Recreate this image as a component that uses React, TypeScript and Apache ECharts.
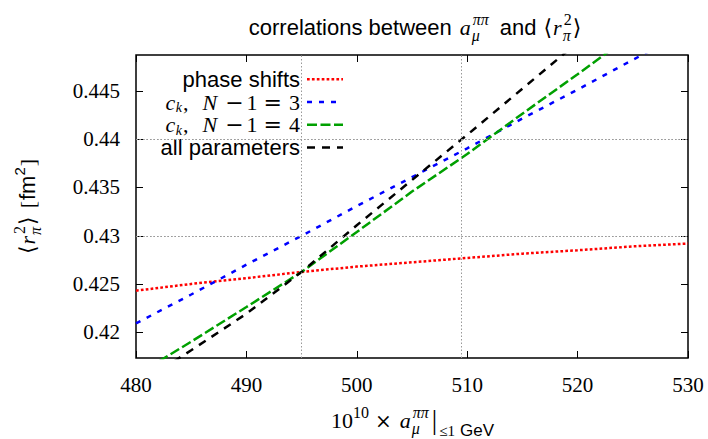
import React, { useEffect, useRef } from 'react';
import * as echarts from 'echarts';

// ---- data ----
const xTicks = [480, 490, 500, 510, 520, 530];
const yTicks = [0.42, 0.425, 0.43, 0.435, 0.44, 0.445];
const xTickLabels = ['480', '490', '500', '510', '520', '530'];
const yTickLabels = ['0.42', '0.425', '0.43', '0.435', '0.44', '0.445'];
const xMin = 480;
const xMax = 530;
const yMin = 0.4173;
const yMax = 0.4488;
const xSamples = [480, 485, 490, 495, 500, 505, 510, 515, 520, 525, 530];
const phaseShifts = [0.4243, 0.425, 0.4256, 0.42625, 0.4268, 0.42725, 0.4277, 0.42815, 0.4285, 0.4289, 0.4292];
const ckN3 = [0.4209, 0.4239, 0.427, 0.43, 0.4331, 0.4361, 0.4391, 0.4422, 0.4452, 0.4483, 0.4513];
const ckN4 = [0.4155, 0.419, 0.4226, 0.42625, 0.4304, 0.4346, 0.4385, 0.4427, 0.4468, 0.451, 0.455];
const allParams = [0.4144, 0.4181, 0.4219, 0.42625, 0.4311, 0.4358, 0.4405, 0.4453, 0.4501, 0.4549, 0.4597];
const refX = [495, 509.5];
const refY = [0.42625, 0.42765, 0.43802, 0.4399];

const SANS = 'Liberation Sans, Arial, Helvetica, sans-serif';
const SERIF = 'Liberation Serif, DejaVu Serif, serif';
const DVSERIF = 'DejaVu Serif, Liberation Serif, serif';

type Kind = 'sans' | 'serif' | 'it' | 'dv';
type Simple = { t: string; k: Kind; s: number; dy?: number; dx?: number };
type Piece = Simple | { sup: Simple; sub: Simple };

const canvas = typeof document !== 'undefined' ? document.createElement('canvas') : null;
const ctx = canvas ? canvas.getContext('2d') : null;

function fam(k: Kind) {
  return k === 'sans' ? SANS : k === 'dv' ? DVSERIF : SERIF;
}
function measure(p: Simple): number {
  if (!ctx) return p.t.length * p.s * 0.5;
  ctx.font = `${p.k === 'it' ? 'italic ' : ''}${p.s}px ${fam(p.k)}`;
  return ctx.measureText(p.t).width;
}
function run(pieces: Piece[], x0: number, baseline: number, align: 'left' | 'center' | 'right') {
  const items: { p: Simple; x: number }[] = [];
  let w = 0;
  for (const p of pieces) {
    if ('sup' in p) {
      items.push({ p: p.sup, x: w });
      items.push({ p: p.sub, x: w });
      w += Math.max(measure(p.sup) + (p.sup.dx || 0), measure(p.sub) + (p.sub.dx || 0));
    } else {
      items.push({ p, x: w });
      w += measure(p) + (p.dx || 0);
    }
  }
  const start = align === 'left' ? x0 : align === 'center' ? x0 - w / 2 : x0 - w;
  return items.map(({ p, x }) => ({
    type: 'text',
    x: start + x + (p.dx || 0),
    y: baseline + (p.dy || 0) - 0.345 * p.s,
    silent: true,
    style: {
      text: p.t,
      fontSize: p.s,
      fontFamily: fam(p.k),
      fontStyle: p.k === 'it' ? 'italic' : 'normal',
      fill: '#000',
      align: 'left',
      verticalAlign: 'middle',
    },
  }));
}

const titlePieces: Piece[] = [
  { t: 'correlations between', k: 'sans', s: 22 },
  { t: 'a', k: 'it', s: 22, dx: 8 },
  { sup: { t: 'ππ', k: 'it', s: 16, dy: -10, dx: 2 }, sub: { t: 'μ', k: 'it', s: 16, dy: 6, dx: 1 } },
  { t: 'and', k: 'sans', s: 22, dx: 11 },
  { t: '⟨', k: 'dv', s: 22, dx: 7 },
  { t: 'r', k: 'it', s: 22, dx: 1 },
  { sup: { t: '2', k: 'serif', s: 16, dy: -10, dx: 2 }, sub: { t: 'π', k: 'it', s: 16, dy: 6, dx: 1 } },
  { t: '⟩', k: 'dv', s: 22, dx: 1 },
];

const xTitlePieces: Piece[] = [
  { t: '10', k: 'serif', s: 22 },
  { t: '10', k: 'serif', s: 16, dy: -10 },
  { t: '×', k: 'dv', s: 20, dx: 6 },
  { t: 'a', k: 'it', s: 22, dx: 8 },
  { sup: { t: 'ππ', k: 'it', s: 16, dy: -10, dx: 2 }, sub: { t: 'μ', k: 'it', s: 16, dy: 6, dx: 1 } },
  { t: '|', k: 'serif', s: 27, dy: 1, dx: 3 },
  { t: '≤1', k: 'serif', s: 15, dy: 8, dx: 2 },
  { t: 'GeV', k: 'sans', s: 17, dy: 8, dx: 5 },
];

const yTitlePieces: Piece[] = [
  { t: '⟨', k: 'dv', s: 22 },
  { t: 'r', k: 'it', s: 22, dx: 1 },
  { sup: { t: '2', k: 'serif', s: 16, dy: -10, dx: 2 }, sub: { t: 'π', k: 'it', s: 16, dy: 6, dx: 1 } },
  { t: '⟩', k: 'dv', s: 22, dx: 1 },
  { t: '[', k: 'serif', s: 22, dx: 8 },
  { t: 'fm', k: 'sans', s: 22, dx: 1 },
  { t: '2', k: 'sans', s: 15, dy: -10 },
  { t: ']', k: 'serif', s: 22, dx: 1 },
];

function ckName(n: string): Piece[] {
  return [
    { t: 'c', k: 'it', s: 22 },
    { t: 'k', k: 'it', s: 14, dy: 3, dx: 0.5 },
    { t: ',', k: 'serif', s: 22, dx: 1 },
    { t: 'N', k: 'it', s: 22, dx: 14 },
    { t: '−', k: 'dv', s: 22, dx: 8 },
    { t: '1', k: 'serif', s: 22, dx: 3 },
    { t: '=', k: 'dv', s: 22, dx: 6 },
    { t: n, k: 'serif', s: 22, dx: 7 },
  ];
}

const legendNames: Piece[][] = [
  [{ t: 'phase shifts', k: 'sans', s: 22 }],
  ckName('3'),
  ckName('4'),
  [{ t: 'all parameters', k: 'sans', s: 22 }],
];

const seriesDefs = [
  { name: 'phase shifts', data: phaseShifts, color: '#ff0000', dash: [2.7, 2.2] },
  { name: 'ck N-1=3', data: ckN3, color: '#0000ff', dash: [5, 7] },
  { name: 'ck N-1=4', data: ckN4, color: '#00a000', dash: [10, 3.5] },
  { name: 'all parameters', data: allParams, color: '#000000', dash: [8, 7] },
];

export default function App() {
  const ref = useRef<HTMLDivElement>(null);
  useEffect(() => {
    if (!ref.current) return;
    const chart = echarts.init(ref.current, undefined, { renderer: 'svg' });

    const tickStyle = { inside: true, length: 7, lineStyle: { color: '#000', width: 1 } };

    const option: any = {
      animation: false,
      backgroundColor: '#fff',
      textStyle: { fontFamily: SERIF },
      grid: {
        left: 136,
        right: 20,
        top: 55,
        bottom: 81,
        show: true,
        borderColor: '#000',
        borderWidth: 1.5,
        backgroundColor: 'transparent',
      },
      xAxis: [
        {
          type: 'value',
          min: xMin,
          max: xMax,
          interval: 10,
          position: 'bottom',
          axisLine: { show: false },
          axisTick: { ...tickStyle, customValues: xTicks },
          axisLabel: { show: false },
          splitLine: { show: false },
        },
        {
          type: 'value',
          min: xMin,
          max: xMax,
          interval: 10,
          position: 'top',
          axisLine: { show: false },
          axisTick: { ...tickStyle, customValues: xTicks },
          axisLabel: { show: false },
          splitLine: { show: false },
        },
      ],
      yAxis: [
        {
          type: 'value',
          min: yMin,
          max: yMax,
          position: 'left',
          axisLine: { show: false },
          axisTick: { ...tickStyle, customValues: yTicks },
          axisLabel: { show: false },
          splitLine: { show: false },
        },
        {
          type: 'value',
          min: yMin,
          max: yMax,
          position: 'right',
          axisLine: { show: false },
          axisTick: { ...tickStyle, customValues: yTicks },
          axisLabel: { show: false },
          splitLine: { show: false },
        },
      ],
      series: [
        {
          type: 'line',
          name: 'refs',
          data: [],
          xAxisIndex: 0,
          yAxisIndex: 0,
          z: 1,
          markLine: {
            silent: true,
            symbol: ['none', 'none'],
            label: { show: false },
            lineStyle: { color: '#999', width: 1, type: [1.5, 2] },
            emphasis: { disabled: true },
            data: [...refX.map((v) => ({ xAxis: v })), ...refY.map((v) => ({ yAxis: v }))],
          },
        },
        ...seriesDefs.map((s) => ({
          type: 'line',
          name: s.name,
          xAxisIndex: 0,
          yAxisIndex: 0,
          data: xSamples.map((x, i) => [x, s.data[i]]),
          showSymbol: false,
          symbol: 'none',
          clip: true,
          z: 3,
          lineStyle: { color: s.color, width: 2.5, type: s.dash, cap: 'butt' },
          emphasis: { disabled: true },
        })),
      ],
    };
    chart.setOption(option);

    const graphics: any[] = [];
    graphics.push(...run(titlePieces, 415, 35, 'center'));
    graphics.push(...run(xTitlePieces, 412.5, 428, 'center'));
    graphics.push({
      type: 'group',
      x: 35,
      y: 206.5,
      rotation: Math.PI / 2,
      children: run(yTitlePieces, 0, 0, 'center'),
    });
    legendNames.forEach((pcs, i) => {
      const ly = 79.3 + 22.7 * i;
      graphics.push(...run(pcs, 300, ly + 7.7, 'right'));
      graphics.push({
        type: 'line',
        silent: true,
        shape: { x1: 307, y1: ly, x2: 343, y2: ly },
        style: { stroke: seriesDefs[i].color, lineWidth: 2.5, lineDash: seriesDefs[i].dash },
      });
    });
    // tick labels placed through the axes' own scales
    xTicks.forEach((v, i) => {
      const px = chart.convertToPixel({ xAxisIndex: 0 }, v) as number;
      graphics.push(...run([{ t: xTickLabels[i], k: 'serif', s: 21 }], px, 392, 'center'));
    });
    yTicks.forEach((v, i) => {
      const py = chart.convertToPixel({ yAxisIndex: 0 }, v) as number;
      graphics.push(...run([{ t: yTickLabels[i], k: 'serif', s: 21 }], 120, py + 7, 'right'));
    });
    chart.setOption({ graphic: graphics });
    return () => chart.dispose();
  }, []);
  return (
    <div
      ref={ref}
      style={{ position: 'absolute', left: 0, top: 0, width: 708, height: 439 }}
    />
  );
}
